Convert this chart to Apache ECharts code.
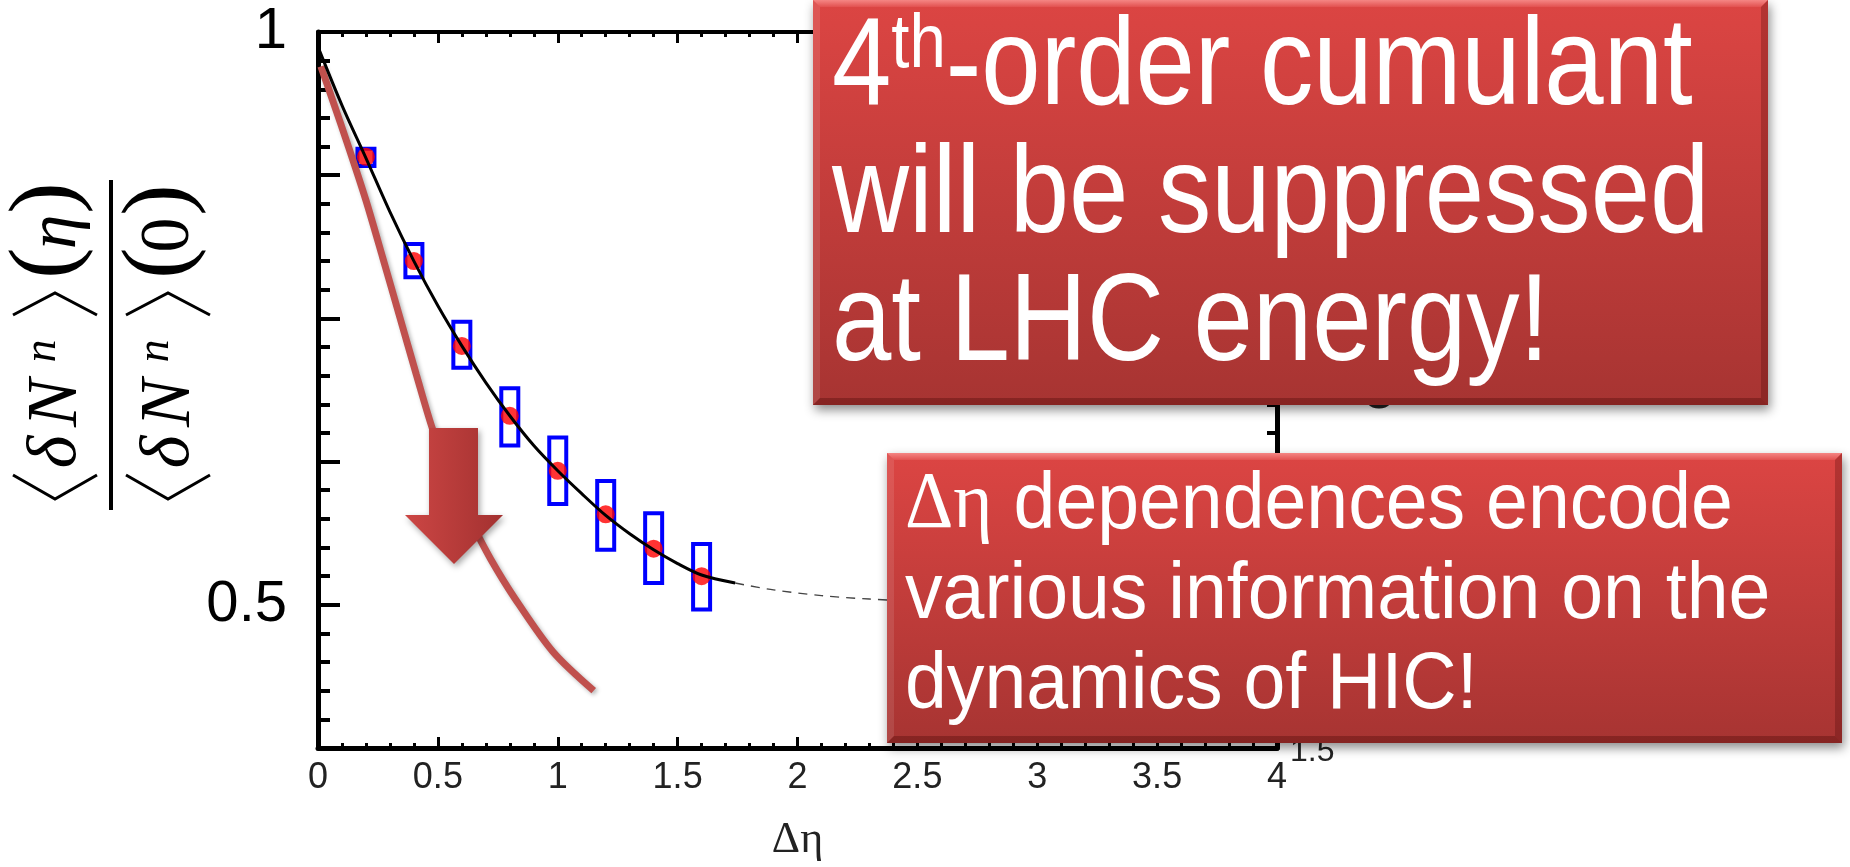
<!DOCTYPE html>
<html>
<head>
<meta charset="utf-8">
<script src="https://cdn.jsdelivr.net/npm/echarts@6/dist/echarts.min.js"></script>
<style>
html,body{margin:0;padding:0;background:#fff;}
#chart{width:1850px;height:867px;}
</style>
</head>
<body>
<div id="chart"></div>
<script>
// ---------------- data ----------------
// measured points (Δη, normalized cumulant)
const ptX = [0.2, 0.4, 0.6, 0.8, 1.0, 1.2, 1.4, 1.6];
const ptY = [0.891, 0.800, 0.726, 0.665, 0.617, 0.579, 0.549, 0.525];
// systematic error boxes (upper / lower)
const boxHi = [0.898, 0.815, 0.747, 0.689, 0.646, 0.608, 0.580, 0.553];
const boxLo = [0.883, 0.786, 0.707, 0.639, 0.588, 0.548, 0.519, 0.496];
// fitted curve (solid part)
const fitX = [0, 0.1, 0.2, 0.3, 0.4, 0.5, 0.6, 0.7, 0.8, 0.9, 1.0, 1.1, 1.2, 1.3, 1.4, 1.5, 1.6, 1.74];
const fitY = [0.987, 0.936, 0.890, 0.843, 0.800, 0.761, 0.726, 0.694, 0.665, 0.639, 0.617, 0.597, 0.578, 0.562, 0.548, 0.536, 0.526, 0.519];
// extrapolation (dashed part)
const extX = [1.74, 1.9, 2.1, 2.3, 2.5];
const extY = [0.519, 0.513, 0.508, 0.505, 0.503];
// hand-drawn LHC expectation curve
const lhcX = [0.012, 0.06, 0.13, 0.2, 0.27, 0.34, 0.41, 0.48, 0.56, 0.64, 0.72, 0.82, 0.98, 1.15];
const lhcY = [0.970, 0.941, 0.898, 0.853, 0.803, 0.752, 0.701, 0.652, 0.608, 0.572, 0.540, 0.506, 0.459, 0.425];
// tick labels
const yLabelValues = [1, 0.5];
const yLabelTexts = ['1', '0.5'];
const xLabelValues = [0, 0.5, 1, 1.5, 2, 2.5, 3, 3.5, 4];
const xLabelTexts = ['0', '0.5', '1', '1.5', '2', '2.5', '3', '3.5', '4'];
const xName = 'Δη';
// annotation texts
const box1Lines = ['4|th|-order cumulant', 'will be suppressed', 'at LHC energy!'];
const box2Lines = ['Δη| dependences encode', 'various information on the', 'dynamics of HIC!'];
// remnant labels of the underlying figure
const remnantTexts = ['1.5', '0.5'];

// ---------------- chart ----------------
const chart = echarts.init(document.getElementById('chart'), null, {renderer: 'canvas'});
const SANS = '"Liberation Sans", Arial, sans-serif';
const SERIF = '"Liberation Serif", "Times New Roman", serif';

function lab(values, texts, v) {
  const i = values.findIndex(t => Math.abs(t - v) < 1e-9);
  return i >= 0 ? texts[i] : '';
}

function bevelBox(x, y, w, h, z) {
  const b = 7;
  return {
    type: 'group', z: z,
    children: [
      {type: 'rect', z: z, shape: {x: x, y: y, width: w, height: h},
        style: {fill: {type: 'linear', x: 0, y: 0, x2: 0, y2: 1,
          colorStops: [{offset: 0, color: '#DC4543'}, {offset: 1, color: '#A73432'}]},
          shadowBlur: 10, shadowOffsetX: 2, shadowOffsetY: 5, shadowColor: 'rgba(0,0,0,0.45)'}},
      {type: 'polygon', z: z, shape: {points: [[x, y], [x + w, y], [x + w - b, y + b], [x + b, y + b]]},
        style: {fill: {type: 'linear', x: 0, y: 0, x2: 0, y2: 1,
          colorStops: [{offset: 0, color: '#F58684'}, {offset: 1, color: '#E25150'}]}}},
      {type: 'polygon', z: z, shape: {points: [[x, y], [x + b, y + b], [x + b, y + h - b], [x, y + h]]},
        style: {fill: 'rgba(255,255,255,0.10)'}},
      {type: 'polygon', z: z, shape: {points: [[x + w, y], [x + w, y + h], [x + w - b, y + h - b], [x + w - b, y + b]]},
        style: {fill: 'rgba(60,0,0,0.25)'}},
      {type: 'polygon', z: z, shape: {points: [[x, y + h], [x + w, y + h], [x + w - b, y + h - b], [x + b, y + h - b]]},
        style: {fill: 'rgba(60,0,0,0.30)'}}
    ]
  };
}

function boxText(x, y, txt, size, sx, z) {
  const parts = txt.split('|');
  let text;
  if (parts.length === 3) {
    text = '{a|' + parts[0] + '}{s|' + parts[1] + '}{a|' + parts[2] + '}';
  } else if (parts.length === 2) {
    text = '{g|' + parts[0] + '}{a|' + parts[1] + '}';
  } else {
    text = '{a|' + parts[0] + '}';
  }
  const ss = Math.round(size * 0.61);
  const rich = {
    a: {fill: '#fff', color: '#fff', fontSize: size, fontFamily: SANS, lineHeight: size, verticalAlign: 'bottom'},
    s: {fill: '#fff', color: '#fff', fontSize: ss, fontFamily: SANS, lineHeight: ss, verticalAlign: 'top'},
    g: {fill: '#fff', color: '#fff', fontSize: size, fontFamily: SERIF, lineHeight: size, verticalAlign: 'bottom'}
  };
  return {type: 'text', z: z, x: x, y: y, scaleX: sx, scaleY: 1,
    style: {text: text, rich: rich, fill: '#fff', align: 'left', verticalAlign: 'middle'}};
}

// y-axis label: rotated fraction <δN^n>(η) / <δN^n>(0)
function glyph(t, lx, ly, size, italic) {
  return {type: 'text', x: lx, y: ly, z: 10,
    style: {text: t, fontSize: size, fontFamily: SERIF, fontStyle: italic ? 'italic' : 'normal',
      fill: '#000', align: 'center', verticalAlign: 'middle'}};
}
function bracket(pts) {
  return {type: 'polyline', z: 10, shape: {points: pts}, style: {stroke: '#000', lineWidth: 3, fill: null}};
}
const d = 113; // numerator -> denominator offset
const yLabelChildren = [
  {type: 'line', z: 10, shape: {x1: -167, y1: 0, x2: 163, y2: 0}, style: {stroke: '#000', lineWidth: 4}},
  // numerator
  bracket([[-132, -98], [-156, -56], [-132, -14]]),
  glyph('δ', -109, -54, 70, true),
  glyph('N', -60, -54, 72, true),
  glyph('n', -8, -68, 46, true),
  bracket([[28, -98], [50, -56], [28, -14]]),
  glyph('(', 80, -63, 94, false),
  glyph('η', 111, -54, 70, true),
  glyph(')', 145, -63, 94, false),
  // denominator
  bracket([[-132, -98 + d], [-156, -56 + d], [-132, -14 + d]]),
  glyph('δ', -109, -54 + d, 70, true),
  glyph('N', -60, -54 + d, 72, true),
  glyph('n', -8, -68 + d, 46, true),
  bracket([[28, -98 + d], [50, -56 + d], [28, -14 + d]]),
  glyph('(', 80, -63 + d, 94, false),
  glyph('0', 108, -54 + d, 70, false),
  glyph(')', 143, -63 + d, 94, false)
];

const graphics = [
  {type: 'group', x: 111, y: 343, rotation: Math.PI / 2, z: 10, children: yLabelChildren},
  // remnants of the underlying figure
  {type: 'text', z: 50, x: 1290, y: 752, style: {text: remnantTexts[0], fontSize: 32, fontFamily: SANS, fill: '#222', align: 'left', verticalAlign: 'middle'}},
  {type: 'text', z: 50, x: 1290, y: 466, style: {text: remnantTexts[1], fontSize: 32, fontFamily: SANS, fill: '#222', align: 'left', verticalAlign: 'middle'}},
  {type: 'circle', z: 50, shape: {cx: 1379, cy: 392, r: 14}, style: {fill: null, stroke: '#222', lineWidth: 5}},
  // down arrow
  {type: 'polygon', z: 90,
    shape: {points: [[429, 428], [478, 428], [478, 515], [503, 515], [454, 564], [405, 515], [429, 515]]},
    style: {fill: {type: 'linear', x: 0, y: 0, x2: 1, y2: 0,
      colorStops: [{offset: 0, color: '#CC4644'}, {offset: 1, color: '#A33130'}]},
      shadowBlur: 6, shadowOffsetX: 2, shadowOffsetY: 3, shadowColor: 'rgba(0,0,0,0.35)'}},
  // annotation boxes
  bevelBox(813, 0, 955, 405, 100),
  boxText(832, 70, box1Lines[0], 124, 0.86, 101),
  boxText(832, 198, box1Lines[1], 124, 0.86, 101),
  boxText(832, 326, box1Lines[2], 124, 0.86, 101),
  bevelBox(887, 453, 955, 290, 100),
  boxText(905, 506, box2Lines[0], 80, 0.94, 101),
  boxText(905, 596, box2Lines[1], 80, 0.94, 101),
  boxText(905, 686, box2Lines[2], 80, 0.94, 101)
];

const axisCommonX = {
  type: 'value', min: 0, max: 4, interval: 0.5,
  splitLine: {show: false},
  axisLine: {onZero: false, lineStyle: {color: '#000', width: 5}},
  axisTick: {inside: true, length: 11, lineStyle: {color: '#000', width: 3}},
  minorTick: {show: true, splitNumber: 5, length: 5, lineStyle: {color: '#000', width: 3}}
};
const axisCommonY = {
  type: 'value', min: 0.375, max: 1, interval: 0.125,
  splitLine: {show: false},
  axisLine: {onZero: false, lineStyle: {color: '#000', width: 5}},
  axisTick: {inside: true, length: 22, lineStyle: {color: '#000', width: 4}},
  minorTick: {show: true, splitNumber: 5, length: 12, lineStyle: {color: '#000', width: 4}}
};

const option = {
  animation: false,
  backgroundColor: '#fff',
  grid: {left: 318, top: 32, width: 959, height: 718, containLabel: false},
  xAxis: [
    Object.assign({}, axisCommonX, {
      position: 'bottom',
      axisLabel: {fontSize: 36, fontFamily: SANS, color: '#222', margin: 12,
        formatter: v => lab(xLabelValues, xLabelTexts, v)},
      name: xName, nameLocation: 'middle', nameGap: 70,
      nameTextStyle: {fontSize: 44, fontFamily: SERIF, color: '#222'}
    }),
    Object.assign({}, axisCommonX, {
      position: 'top', axisLabel: {show: false},
      axisLine: {onZero: false, lineStyle: {color: '#000', width: 4}}
    })
  ],
  yAxis: [
    Object.assign({}, axisCommonY, {
      position: 'left',
      axisLabel: {fontSize: 58, fontFamily: SANS, color: '#000', margin: 31,
        formatter: v => lab(yLabelValues, yLabelTexts, v)}
    }),
    Object.assign({}, axisCommonY, {
      position: 'right', axisLabel: {show: false},
      axisTick: {inside: true, length: 20, lineStyle: {color: '#000', width: 4}},
      minorTick: {show: true, splitNumber: 5, length: 10, lineStyle: {color: '#000', width: 4}}
    })
  ],
  series: [
    {
      type: 'custom', z: 2, xAxisIndex: 0, yAxisIndex: 0,
      data: ptX.map((x, i) => [x, boxHi[i], boxLo[i]]),
      encode: {x: 0, y: [1, 2]},
      renderItem: function (params, api) {
        const p1 = api.coord([api.value(0), api.value(1)]);
        const p2 = api.coord([api.value(0), api.value(2)]);
        const w = 17;
        return {type: 'rect', shape: {x: p1[0] - w / 2, y: p1[1], width: w, height: p2[1] - p1[1]},
          style: {fill: 'none', stroke: '#0000FF', lineWidth: 4}};
      }
    },
    {
      type: 'line', z: 3, smooth: 0.3, showSymbol: false, symbol: 'none',
      data: lhcX.map((x, i) => [x, lhcY[i]]),
      lineStyle: {color: '#C0504D', width: 7, cap: 'butt',
        shadowBlur: 4, shadowOffsetX: 2, shadowOffsetY: 2, shadowColor: 'rgba(0,0,0,0.3)'}
    },
    {
      type: 'scatter', z: 3, symbol: 'circle', symbolSize: 18,
      data: ptX.map((x, i) => [x, ptY[i]]),
      itemStyle: {color: '#FF0000'}
    },
    {
      type: 'line', z: 4, smooth: 0.3, showSymbol: false, symbol: 'none',
      data: fitX.map((x, i) => [x, fitY[i]]),
      lineStyle: {color: '#000', width: 3}
    },
    {
      type: 'line', z: 4, smooth: 0.3, showSymbol: false, symbol: 'none',
      data: extX.map((x, i) => [x, extY[i]]),
      lineStyle: {color: '#444', width: 1.4, type: [9, 7]}
    }
  ],
  graphic: graphics
};
chart.setOption(option);
</script>
</body>
</html>
